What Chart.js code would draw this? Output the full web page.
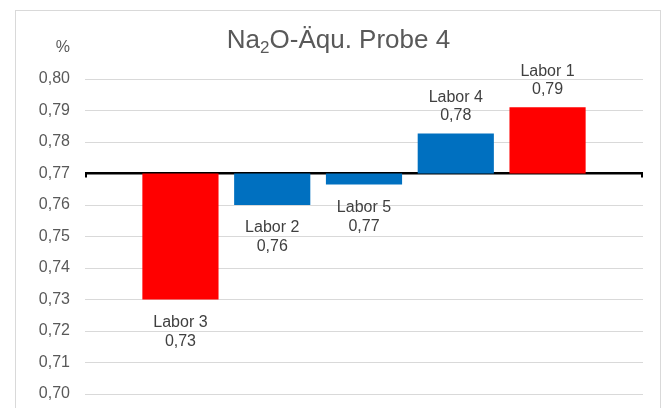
<!DOCTYPE html>
<html>
<head>
  <meta charset="utf-8">
  <script src="https://cdn.jsdelivr.net/npm/chart.js@4.4.0/dist/chart.umd.min.js"></script>
  <style>
    html, body { margin: 0; padding: 0; background: #fff; overflow: hidden; }
    #frame {
      position: absolute; left: 15px; top: 10px;
      width: 646px; height: 440px;
      border: 1px solid #d9d9d9; box-sizing: border-box;
    }
    #wrap { position: absolute; left: 0; top: 0; width: 664px; height: 408px; }
  </style>
</head>
<body>
  <div id="frame"></div>
  <div id="wrap"><canvas id="graph" width="664" height="408"></canvas></div>

  <script>
    // data
    var labs = ['Labor 3', 'Labor 2', 'Labor 5', 'Labor 4', 'Labor 1'];
    var values = [0.73, 0.76, 0.7665, 0.7827, 0.791];
    var baseValue = 0.77;
    var yTicks = [0.70, 0.71, 0.72, 0.73, 0.74, 0.75, 0.76, 0.77, 0.78, 0.79, 0.80];

    var red = '#ff0000', blue = '#0070c0';
    var barColors = [red, blue, blue, blue, red];
    var txt = '#595959';
    var font = '"Liberation Sans", Arial, sans-serif';

    function comma(v) {
      return v.toFixed(2).replace('.', ',');
    }

    var points = [];
    for (var i = 0; i < values.length; i++) {
      points.push({ x: i + 1, y: [baseValue, values[i]] });
    }

    // title with subscript, % unit and bar labels
    var extras = {
      id: 'extras',
      afterDraw: function(chart) {
        var c = chart.ctx;
        c.save();
        c.fillStyle = txt;

        // title  Na2O-Äqu. Probe 4
        var big = '26px ' + font, small = '17px ' + font;
        c.font = big;
        var w1 = c.measureText('Na').width;
        var w3 = c.measureText('O-Äqu. Probe 4').width;
        c.font = small;
        var w2 = c.measureText('2').width;
        var x = 338.5 - (w1 + w2 + w3) / 2;
        var y = 48;
        c.textBaseline = 'alphabetic';
        c.textAlign = 'left';
        c.font = big;
        c.fillText('Na', x, y);
        c.font = small;
        c.fillText('2', x + w1, y + 5);
        c.font = big;
        c.fillText('O-Äqu. Probe 4', x + w1 + w2, y);

        // unit
        c.font = '16px ' + font;
        c.textAlign = 'right';
        c.fillText('%', 70, 52);

        // bar labels
        c.fillStyle = '#404040';
        c.textAlign = 'center';
        var meta = chart.getDatasetMeta(0);
        meta.data.forEach(function(bar, i) {
          var up = values[i] >= baseValue;
          var ys = chart.scales.y.getPixelForValue(values[i]);
          if (up) {
            c.fillText(labs[i], bar.x, ys - 31);
            c.fillText(comma(values[i]), bar.x, ys - 13);
          } else {
            c.fillText(labs[i], bar.x, ys + 27);
            c.fillText(comma(values[i]), bar.x, ys + 46);
          }
        });

        // little end ticks of the black base line
        var yb = chart.scales.y.getPixelForValue(baseValue);
        var a = chart.chartArea;
        c.strokeStyle = '#000';
        c.lineWidth = 2;
        c.beginPath();
        c.moveTo(a.left + 1, yb);
        c.lineTo(a.left + 1, yb + 4);
        c.moveTo(a.right - 1, yb);
        c.lineTo(a.right - 1, yb + 4);
        c.stroke();
        c.restore();
      }
    };

    var chart = new Chart(document.getElementById('graph'), {
      type: 'bar',
      data: {
        datasets: [{
          data: points,
          backgroundColor: barColors,
          borderWidth: 0,
          barPercentage: 0.83,
          categoryPercentage: 1
        }]
      },
      options: {
        responsive: false,
        animation: false,
        layout: { padding: { left: 0, right: 21, top: 79, bottom: 14 } },
        plugins: {
          legend: { display: false },
          tooltip: { enabled: false },
          title: { display: false }
        },
        scales: {
          x: {
            type: 'linear',
            min: -0.04,
            max: 6.04,
            offset: false,
            display: false
          },
          y: {
            min: 0.70,
            max: 0.80,
            afterFit: function(s) { s.width = 85; },
            afterBuildTicks: function(s) {
              s.ticks = yTicks.map(function(v) { return { value: v }; });
            },
            border: { display: false },
            grid: {
              drawTicks: true,
              tickLength: 15,
              tickColor: 'rgba(0,0,0,0)',
              color: function(ctx) {
                return Math.abs(ctx.tick.value - baseValue) < 1e-6 ? '#000' : '#d9d9d9';
              },
              lineWidth: function(ctx) {
                return Math.abs(ctx.tick.value - baseValue) < 1e-6 ? 2.5 : 1;
              }
            },
            ticks: {
              padding: 0,
              color: txt,
              font: { family: font, size: 16 },
              callback: function(v) { return comma(v); }
            }
          }
        }
      },
      plugins: [extras]
    });
  </script>
</body>
</html>
